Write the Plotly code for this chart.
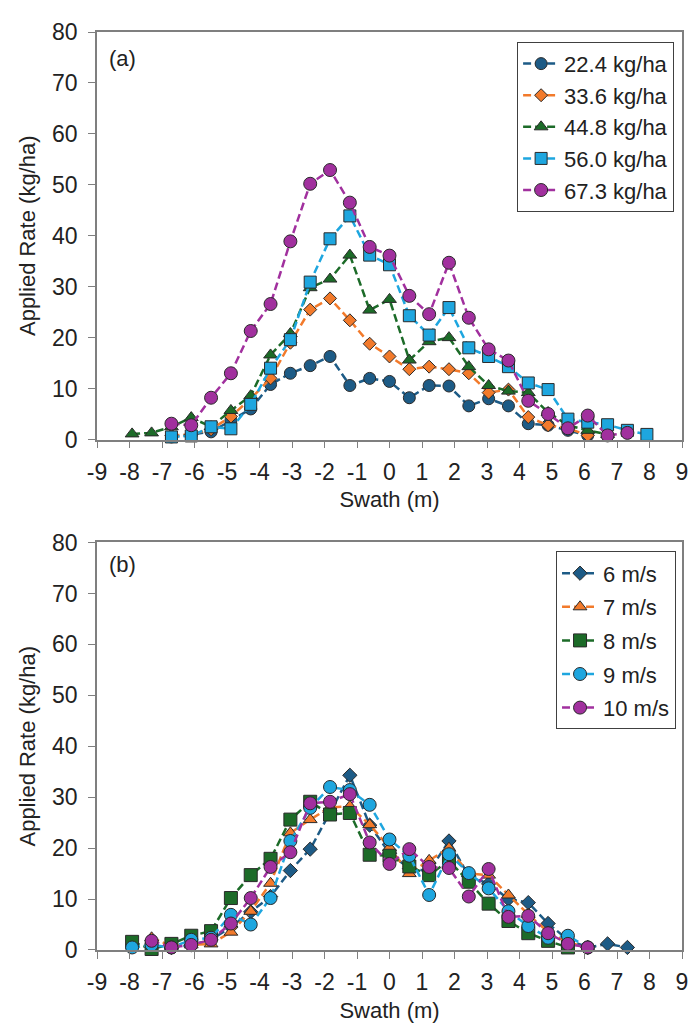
import plotly.graph_objects as go

# ---------------- data ----------------
swath = [-7.92, -7.32, -6.71, -6.10, -5.49, -4.88, -4.27, -3.66, -3.05, -2.44, -1.83, -1.22, -0.61,
         0.00, 0.61, 1.22, 1.83, 2.44, 3.05, 3.66, 4.27, 4.88, 5.49, 6.10, 6.71, 7.32, 7.92]

# (a) application rate series, kg/ha
rate_22_4 = [None, None, 0.5, 1.0, 1.5, 3.7, 6.0, 10.8, 13.0, 14.5, 16.3, 10.6, 12.0,
             11.4, 8.2, 10.6, 10.5, 6.6, 8.0, 6.6, 3.1, 2.8, 1.8, 0.8, None, None, None]
rate_33_6 = [None, None, 0.8, 1.0, 2.0, 4.5, 8.0, 12.0, 19.0, 25.5, 27.7, 23.4, 18.8,
             16.3, 13.8, 14.3, 13.8, 13.0, 9.2, 9.8, 4.4, 2.8, 2.2, 0.8, None, None, None]
rate_44_8 = [1.1, 1.3, 2.5, 4.3, 2.5, 5.7, 8.6, 16.6, 20.8, 29.8, 31.5, 36.2, 25.4,
             27.5, 15.6, 19.2, 20.0, 14.3, 10.6, 9.5, 9.2, 5.3, 2.8, 1.8, 1.0, None, None]
rate_56_0 = [None, None, 0.5, 0.7, 2.5, 2.1, 6.9, 14.0, 19.6, 30.9, 39.4, 43.9, 36.2,
             34.3, 24.3, 20.5, 25.9, 18.0, 16.3, 14.3, 11.1, 9.8, 4.0, 3.4, 2.9, 1.8, 1.0]
rate_67_3 = [None, None, 3.1, 2.8, 8.2, 13.0, 21.3, 26.6, 38.9, 50.2, 52.9, 46.5, 37.8,
             36.1, 28.2, 24.6, 34.7, 23.9, 17.7, 15.5, 7.6, 5.0, 2.2, 4.7, 0.8, 1.3, None]

# (b) wind speed series, kg/ha
wind_6 = [None, None, 0.5, 1.0, 2.0, 4.5, 7.5, 10.5, 15.6, 19.8, 27.0, 34.3, 24.5,
          19.0, 16.0, 15.5, 21.4, 14.5, 13.0, 10.0, 9.3, 5.2, 2.0, 0.5, 1.2, 0.5, None]
wind_7 = [None, 2.4, 0.8, 1.0, 1.2, 3.5, 7.6, 13.1, 23.0, 25.6, 28.0, 28.2, 24.6,
          20.1, 15.0, 17.6, 20.0, 15.0, 14.7, 10.8, 7.0, 3.5, 1.5, 0.5, None, None, None]
wind_8 = [1.6, 0.2, 1.2, 2.8, 3.7, 10.2, 14.7, 17.9, 25.6, 29.1, 26.6, 26.9, 18.7,
          18.5, 16.4, 14.7, 17.6, 13.4, 9.1, 5.7, 3.3, 1.8, 0.5, None, None, None, None]
wind_9 = [0.5, 1.0, 0.5, 2.0, 2.4, 6.9, 5.0, 10.2, 21.4, 27.9, 32.0, 31.4, 28.5,
          21.7, 18.5, 10.8, 18.8, 15.1, 12.1, 7.6, 4.7, 2.4, 2.8, 0.5, None, None, None]
wind_10 = [None, 1.8, 0.5, 1.0, 2.0, 5.2, 10.2, 16.3, 19.2, 28.8, 29.1, 30.6, 21.1,
           16.9, 19.8, 16.3, 16.1, 10.5, 15.9, 6.5, 6.7, 3.3, 1.2, 0.5, None, None, None]

top_names = ["22.4 kg/ha", "33.6 kg/ha", "44.8 kg/ha", "56.0 kg/ha", "67.3 kg/ha"]
bot_names = ["6 m/s", "7 m/s", "8 m/s", "9 m/s", "10 m/s"]

x_tickvals = [-9, -8, -7, -6, -5, -4, -3, -2, -1, 0, 1, 2, 3, 4, 5, 6, 7, 8, 9]
x_ticktext = ["-9", "-8", "-7", "-6", "-5", "-4", "-3", "-2", "-1", "0",
              "1", "2", "3", "4", "5", "6", "7", "8", "9"]
y_tickvals = [0, 10, 20, 30, 40, 50, 60, 70, 80]

# ---------------- styles ----------------
C_DARK = "#1d5b86"
C_ORANGE = "#f27a2b"
C_GREEN = "#1c6b28"
C_LIGHT = "#1ea6df"
C_PURPLE = "#a1309e"
OUTLINE = "#2a2a2a"
TEXT = "#222222"
FONT = "Liberation Sans, Arial, sans-serif"

top_styles = [
    (C_DARK, "circle", 12),
    (C_ORANGE, "diamond", 10),
    (C_GREEN, "triangle-up", 12),
    (C_LIGHT, "square", 12),
    (C_PURPLE, "circle", 13),
]
bot_styles = [
    (C_DARK, "diamond", 11),
    (C_ORANGE, "triangle-up", 12),
    (C_GREEN, "square", 13),
    (C_LIGHT, "circle", 13),
    (C_PURPLE, "circle", 13),
]

fig = go.Figure()

def add_series(ys, name, style, xa, ya, legend, group):
    color, symbol, size = style
    fig.add_trace(go.Scatter(
        x=swath, y=ys, name=name, mode="lines+markers",
        xaxis=xa, yaxis=ya, legend=legend, legendgroup=group,
        line=dict(color=color, width=2.5, dash="8px,4px"),
        marker=dict(color=color, symbol=symbol, size=size,
                    line=dict(color=OUTLINE, width=1)),
        cliponaxis=False, connectgaps=False,
    ))

for ys, nm, st in zip([rate_22_4, rate_33_6, rate_44_8, rate_56_0, rate_67_3], top_names, top_styles):
    add_series(ys, nm, st, "x", "y", "legend", "a" + nm)
for ys, nm, st in zip([wind_6, wind_7, wind_8, wind_9, wind_10], bot_names, bot_styles):
    add_series(ys, nm, st, "x2", "y2", "legend2", "b" + nm)

axis_common = dict(
    showgrid=False, zeroline=False, showline=True, linecolor="#7f7f7f", linewidth=1.5,
    mirror=True, ticks="outside", ticklen=7, tickcolor="#7f7f7f", tickwidth=1,
    tickfont=dict(family=FONT, size=23, color=TEXT),
)

xcommon = dict(axis_common, range=[-9, 9], tickvals=x_tickvals, ticktext=x_ticktext,
               ticklabelstandoff=4,
               title=dict(text="Swath (m)", font=dict(family=FONT, size=22, color=TEXT), standoff=8))
ycommon = dict(axis_common, range=[0, 80], tickvals=y_tickvals, ticklabelstandoff=6,
               title=dict(text="Applied Rate (kg/ha)", font=dict(family=FONT, size=22, color=TEXT), standoff=10))

legend_common = dict(
    bgcolor="white", bordercolor="#404040", borderwidth=1,
    font=dict(family=FONT, size=22, color=TEXT),
    xanchor="right", yanchor="top", itemwidth=36,
)

fig.update_layout(
    width=691, height=1022,
    margin=dict(l=89, r=11, t=11, b=76),
    paper_bgcolor="white", plot_bgcolor="white",
    xaxis=dict(xcommon, domain=[0, 1], anchor="y"),
    yaxis=dict(ycommon, domain=[0.5561, 1], anchor="x"),
    xaxis2=dict(xcommon, domain=[0, 1], anchor="y2"),
    yaxis2=dict(ycommon, domain=[0, 0.4439], anchor="x2"),
    legend=dict(legend_common, x=0.9865, y=0.9893, tracegroupgap=0),
    legend2=dict(legend_common, x=0.9898, y=0.4342, tracegroupgap=2),
    annotations=[
        dict(text="(a)", xref="x domain", yref="y domain", x=0.017, y=0.935,
             xanchor="left", yanchor="middle", showarrow=False,
             font=dict(family=FONT, size=22, color=TEXT)),
        dict(text="(b)", xref="x2 domain", yref="y2 domain", x=0.017, y=0.945,
             xanchor="left", yanchor="middle", showarrow=False,
             font=dict(family=FONT, size=22, color=TEXT)),
    ],
)

fig.write_html("out.html")
